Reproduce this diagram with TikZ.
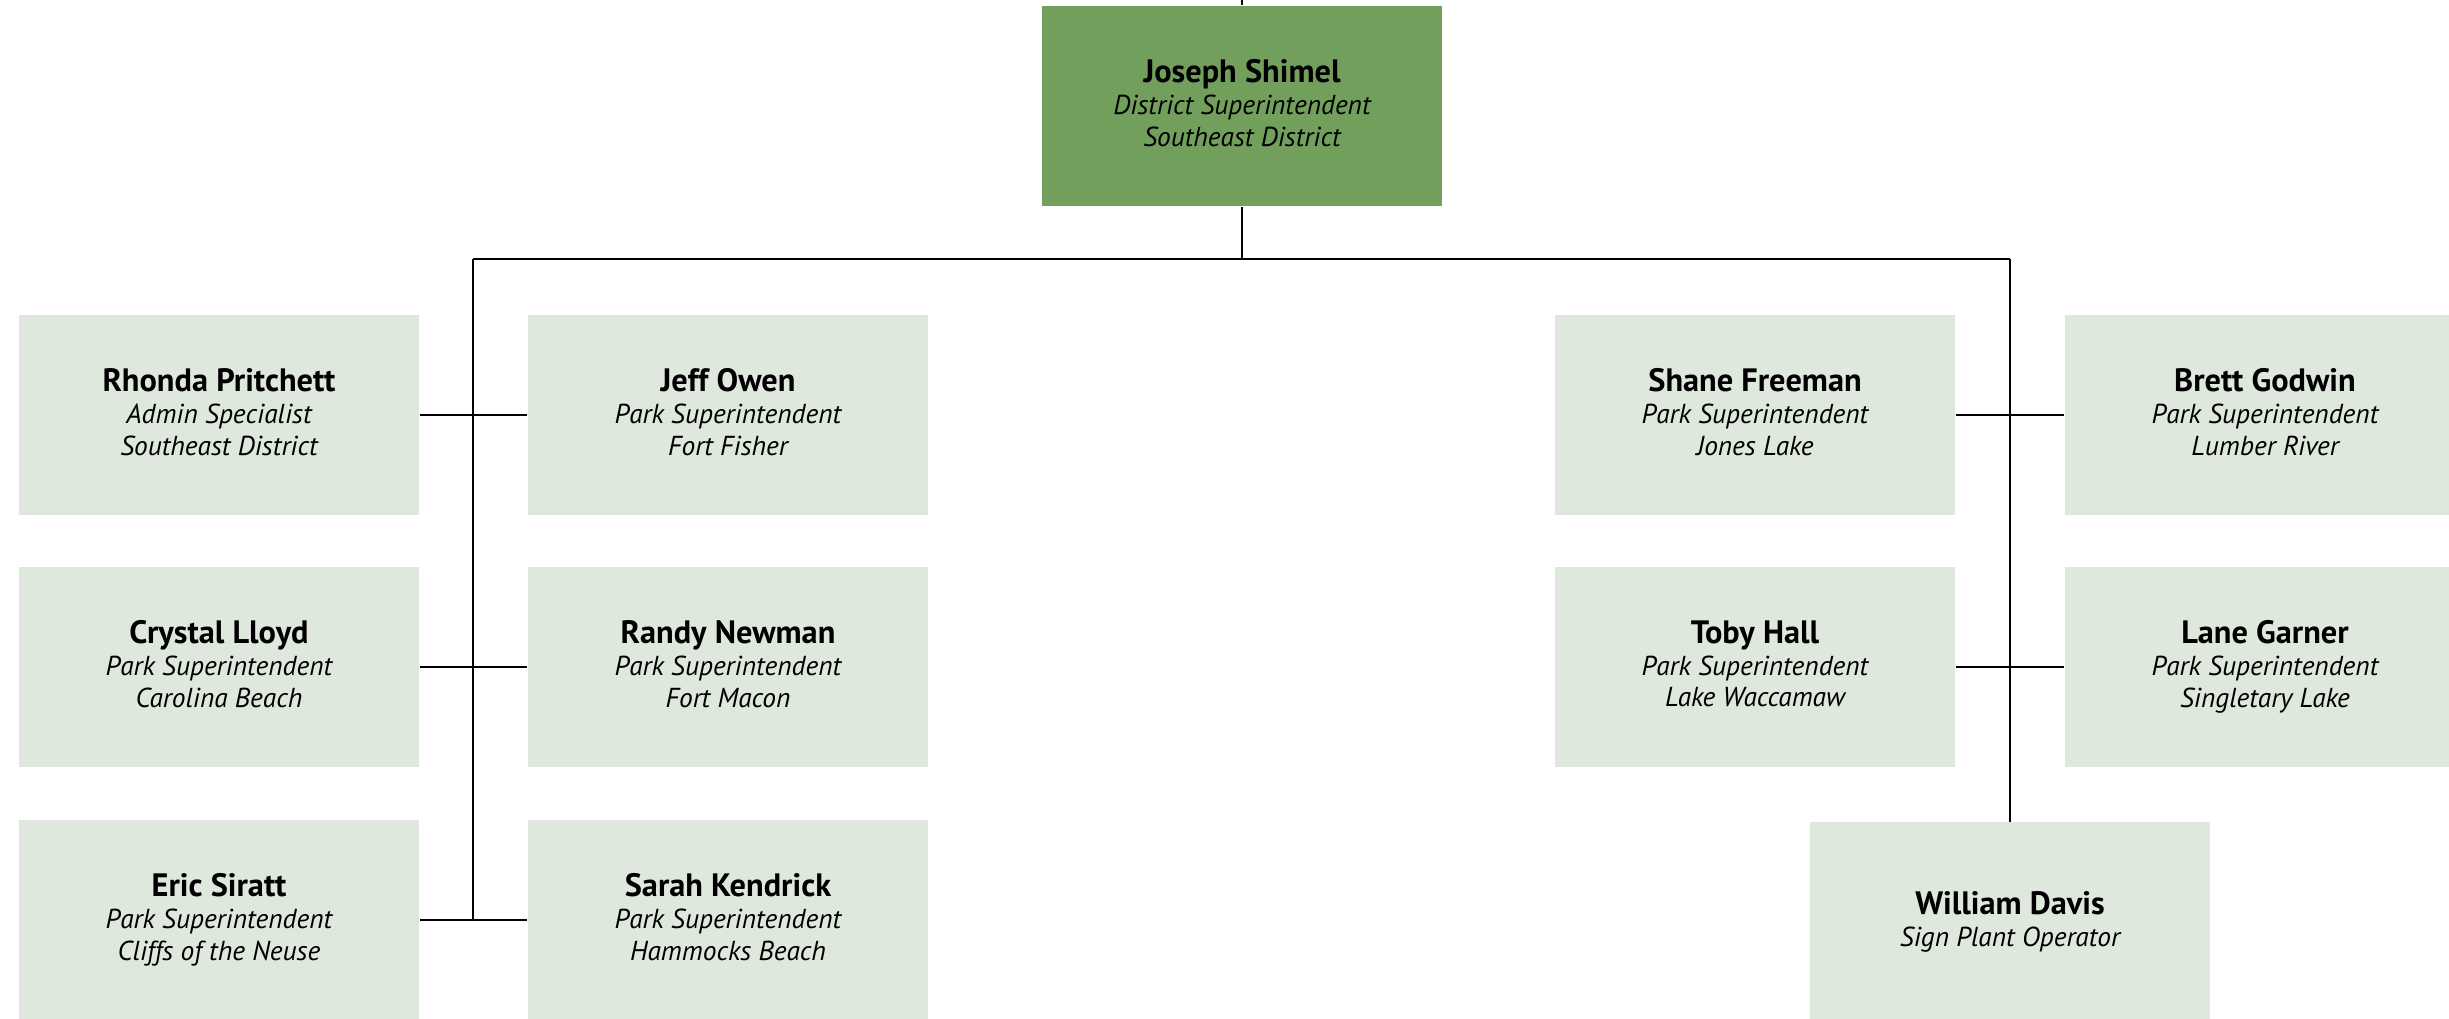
\documentclass[tikz,border=0pt]{standalone}
\usepackage{fontspec}
\setmainfont{PT Sans}
\usetikzlibrary{positioning}
\definecolor{chiefgreen}{RGB}{114,160,92}
\definecolor{staffgreen}{RGB}{223,232,220}
\newcommand{\who}[2]{{\fontsize{9.2}{9}\selectfont\upshape\bfseries #1}\\#2}

\begin{document}
\begin{tikzpicture}[x=0.01cm,y=-0.01cm,
  staff/.style={rectangle,fill=staffgreen,minimum width=4cm,minimum height=1.99cm,inner sep=0pt,align=center,
    text depth=1.7pt,font=\fontsize{7.8}{9}\selectfont\itshape},
  chief/.style={staff,fill=chiefgreen,minimum height=2cm},
  link/.style={line width=0.8pt}]
\useasboundingbox (0,0) rectangle (2449,1019);
% district office
\node[chief] (js) at (1242,106) {\who{Joseph Shimel}{District Superintendent\\Southeast District}};
% left group
\node[staff] (rp) at (219,415) {\who{Rhonda Pritchett}{Admin Specialist\\Southeast District}};
\node[staff] (jo) at (728,415) {\who{Jeff Owen}{Park Superintendent\\Fort Fisher}};
\node[staff] (cl) at (219,667) {\who{Crystal Lloyd}{Park Superintendent\\Carolina Beach}};
\node[staff] (rn) at (728,667) {\who{Randy Newman}{Park Superintendent\\Fort Macon}};
\node[staff] (es) at (219,920) {\who{Eric Siratt}{Park Superintendent\\Cliffs of the Neuse}};
\node[staff] (sk) at (728,920) {\who{Sarah Kendrick}{Park Superintendent\\Hammocks Beach}};
% right group
\node[staff] (sf) at (1755,415) {\who{Shane Freeman}{Park Superintendent\\Jones Lake}};
\node[staff] (bg) at (2265,415) {\who{Brett Godwin}{Park Superintendent\\Lumber River}};
\node[staff] (th) at (1755,667) {\who{Toby Hall}{Park Superintendent\\Lake Waccamaw}};
\node[staff] (lg) at (2265,667) {\who{Lane Garner}{Park Superintendent\\Singletary Lake}};
\node[staff] (wd) at (2010,922) {\who{William Davis}{Sign Plant Operator}};
% lines
\coordinate (up) at (1242,0);
\coordinate (lt) at (473,259);
\coordinate (rt) at (2010,259);
\draw[link] (up) -- (js.north);
\draw[link] (js.south) -- (js.south |- lt);
\draw[link] (lt) -- (rt);
\draw[link] (lt) -- (lt |- es.east);
\draw[link] (rt) -- (wd.north);
\draw[link] (rp.east) -- (jo.west);
\draw[link] (cl.east) -- (rn.west);
\draw[link] (es.east) -- (sk.west);
\draw[link] (sf.east) -- (bg.west);
\draw[link] (th.east) -- (lg.west);
\end{tikzpicture}
\end{document}
